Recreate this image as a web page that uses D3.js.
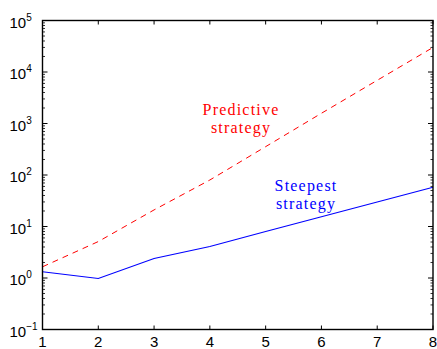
<!DOCTYPE html>
<html>
<head>
<meta charset="utf-8">
<script src="https://cdn.jsdelivr.net/npm/d3@7"></script>
<style>
  body { margin: 0; background: #fff; }
  svg { display: block; }
</style>
</head>
<body>
<div id="chart"></div>
<script>
// Data
const steps = [1, 2, 3, 4, 5, 6, 7, 8];
const steepest = [1.32, 0.98, 2.4, 4.1, 8.0, 15.5, 30, 58];
const predictive = [1.65, 5.1, 21, 80, 355, 1580, 6900, 30000];
const xTicks = [1, 2, 3, 4, 5, 6, 7, 8];
const yDecades = [-1, 0, 1, 2, 3, 4, 5];

const width = 437;
const height = 349;
const sansFont = '"Liberation Sans", Arial, Helvetica, sans-serif';
const serifFont = '"Liberation Serif", "Times New Roman", serif';

const svg = d3.select('#chart')
    .append('svg')
    .attr('width', width)
    .attr('height', height);

// Plot box
const boxLeft = 42.5, boxRight = 433, boxTop = 20.5, boxBottom = 329.5;

const x = d3.scaleLinear().domain([1, 8]).range([boxLeft, boxRight]);
const y = d3.scaleLog().domain([0.1, 1e5]).range([boxBottom, boxTop]);

// Lines
const line = d3.line()
    .x((d, i) => x(steps[i]))
    .y(d => y(d));

svg.append('path')
    .datum(predictive)
    .attr('d', line)
    .attr('fill', 'none')
    .attr('stroke', '#ff0000')
    .attr('stroke-width', 1)
    .attr('stroke-dasharray', '6,5');

svg.append('path')
    .datum(steepest)
    .attr('d', line)
    .attr('fill', 'none')
    .attr('stroke', '#0000ff')
    .attr('stroke-width', 1.1);

// Frame
svg.append('rect')
    .attr('x', boxLeft)
    .attr('y', boxTop)
    .attr('width', boxRight - boxLeft)
    .attr('height', boxBottom - boxTop)
    .attr('fill', 'none')
    .attr('stroke', '#000')
    .attr('stroke-width', 1.4);

// x ticks, inward on top and bottom
const xt = svg.append('g');
xTicks.forEach(t => {
    xt.append('line').attr('x1', x(t)).attr('x2', x(t)).attr('y1', boxBottom).attr('y2', boxBottom - 4).attr('stroke', '#000');
    xt.append('line').attr('x1', x(t)).attr('x2', x(t)).attr('y1', boxTop).attr('y2', boxTop + 4).attr('stroke', '#000');
    xt.append('text')
        .style('font-family', sansFont)
        .attr('font-size', 15)
        .attr('x', x(t))
        .attr('y', boxBottom + 17.5)
        .attr('text-anchor', 'middle')
        .text(t);
});

// y ticks: decades plus minor ticks, inward on left and right
const yt = svg.append('g');
yDecades.forEach(e => {
    const v = Math.pow(10, e);
    yt.append('line').attr('x1', boxLeft).attr('x2', boxLeft + 5).attr('y1', y(v)).attr('y2', y(v)).attr('stroke', '#000');
    yt.append('line').attr('x1', boxRight).attr('x2', boxRight - 5).attr('y1', y(v)).attr('y2', y(v)).attr('stroke', '#000');
    if (e < 5) {
        for (let m = 2; m <= 9; m++) {
            const mv = m * v;
            yt.append('line').attr('x1', boxLeft).attr('x2', boxLeft + 2.5).attr('y1', y(mv)).attr('y2', y(mv)).attr('stroke', '#000').attr('stroke-width', 0.8);
            yt.append('line').attr('x1', boxRight).attr('x2', boxRight - 2.5).attr('y1', y(mv)).attr('y2', y(mv)).attr('stroke', '#000').attr('stroke-width', 0.8);
        }
    }
    const lab = yt.append('text')
        .style('font-family', sansFont)
        .attr('font-size', 15)
        .attr('x', 9.5)
        .attr('y', y(v) + 7);
    lab.append('tspan').text('10');
    lab.append('tspan')
        .attr('dy', -7)
        .attr('font-size', 10)
        .text(e < 0 ? '\u2212' + (-e) : e);
});

// Annotations
const notes = [
    { lines: ['Predictive', 'strategy'], cx: 241, y0: 115, color: '#ff0000' },
    { lines: ['Steepest', 'strategy'], cx: 306, y0: 191, color: '#0000ff' }
];
notes.forEach(n => {
    n.lines.forEach((t, i) => {
        svg.append('text')
            .style('font-family', serifFont)
            .attr('font-size', 16)
            .attr('letter-spacing', 1.2)
            .attr('x', n.cx)
            .attr('y', n.y0 + i * 17.5)
            .attr('text-anchor', 'middle')
            .attr('fill', n.color)
            .text(t);
    });
});
</script>
</body>
</html>
